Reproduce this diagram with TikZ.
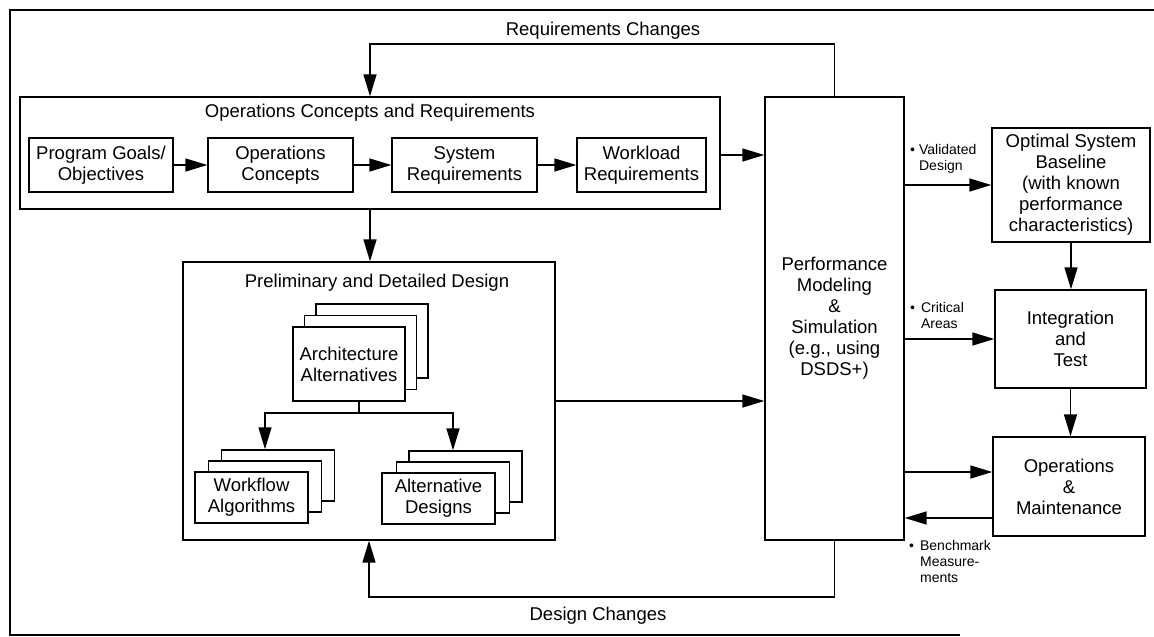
\documentclass[tikz,border=0pt]{standalone}
\usepackage{fontspec}
\setmainfont{Liberation Sans}
\usetikzlibrary{arrows.meta}
\newcommand\bigtxt{\fontsize{18.5}{21}\selectfont}
\newcommand\smalltxt{\fontsize{14}{16}\selectfont}
\begin{document}
\begin{tikzpicture}[x=1pt,y=-1pt,
  box/.style={draw, line width=1.4pt, fill=white, inner sep=0pt, align=center, font=\bigtxt},
  lbl/.style={inner sep=0pt, align=center, font=\bigtxt},
  note/.style={inner sep=0pt, anchor=west, font=\smalltxt},
  arr/.style={line width=1.5pt, -{Triangle[length=22pt,width=13pt]}},
  ln/.style={line width=1.5pt}]
\useasboundingbox (0,0) rectangle (1154,637);
% outer frame
\draw[ln] (1154,10) -- (10,10) -- (10,635) -- (960,635);

% Operations Concepts and Requirements
\node[box, minimum width=700pt, minimum height=112pt] (ocr) at (370,153) {};
\node[lbl] (ocrt) at (370,113) {Operations Concepts and Requirements};
\node[box, minimum width=144pt, minimum height=54pt] (pg) at (101,165) {Program Goals/\\Objectives};
\node[box, minimum width=145pt, minimum height=54pt] (oc) at (280.5,165) {Operations\\Concepts};
\node[box, minimum width=145pt, minimum height=54pt] (sr) at (464.5,165) {System\\Requirements};
\node[box, minimum width=129pt, minimum height=54pt] (wr) at (641.5,165) {Workload\\Requirements};
\draw[arr] (pg) -- (oc);
\draw[arr] (oc) -- (sr);
\draw[arr] (sr) -- (wr);

% Preliminary and Detailed Design
\node[box, minimum width=372pt, minimum height=278pt] (pdd) at (369,401) {};
\node[lbl] (pddt) at (377,283) {Preliminary and Detailed Design};
\node[box, minimum width=112pt, minimum height=74pt] (archB) at (372,341) {};
\node[box, minimum width=112pt, minimum height=74pt] (archM) at (360.5,352.5) {};
\node[box, minimum width=112pt, minimum height=74pt] (archF) at (349,364) {Architecture\\Alternatives};
\node[box, minimum width=113pt, minimum height=51pt] (wfB) at (278,475.5) {};
\node[box, minimum width=113pt, minimum height=51pt] (wfM) at (265,486.5) {};
\node[box, minimum width=113pt, minimum height=51pt] (wfF) at (251.5,497.5) {Workflow\\Algorithms};
\node[box, minimum width=113pt, minimum height=51pt] (altB) at (465.5,476.5) {};
\node[box, minimum width=113pt, minimum height=51pt] (altM) at (453,487.5) {};
\node[box, minimum width=113pt, minimum height=51pt] (altF) at (438.5,498.5) {Alternative\\Designs};
\coordinate (tree) at (359,413);
\draw[ln] (tree |- archF.south) -- (tree);
\draw[arr] (tree) -| (wfM.north |- wfB.north);
\draw[arr] (tree) -| (altM.north |- altB.north);

% Performance modeling
\node[box, minimum width=139pt, minimum height=443pt] (pm) at (834.5,318.5)
  {Performance\\Modeling\\\&\\Simulation\\(e.g., using\\DSDS+)};

% right column
\node[box, minimum width=158pt, minimum height=114pt] (opt) at (1071,185)
  {Optimal System\\Baseline\\(with known\\performance\\characteristics)};
\node[box, minimum width=151pt, minimum height=98pt] (it) at (1070.5,339) {Integration\\and\\Test};
\node[box, minimum width=152pt, minimum height=99pt] (om) at (1069,486.5) {Operations\\\&\\Maintenance};

% connectors
\draw[arr] (ocr.south) -- (ocr.south |- pdd.north);
\draw[arr] ([yshift=-2pt]ocr.east) -- ([yshift=-2pt]ocr.east -| pm.west);
\draw[arr] (pdd.east) -- (pdd.east -| pm.west);
\draw[arr] (opt.west -| pm.east) -- (opt.west);
\draw[arr] (it.west -| pm.east) -- (it.west);
\draw[arr] ([yshift=14.5pt]om.west -| pm.east) -- ([yshift=14.5pt]om.west);
\draw[arr] ([yshift=-31.5pt]om.west) -- ([yshift=-31.5pt]om.west -| pm.east);
\draw[arr] (opt.south) -- (opt.south |- it.north);
\draw[arr] (it.south) -- (it.south |- om.north);

% feedback loops
\coordinate (toploop) at (600,44);
\coordinate (botloop) at (600,597);
\draw[arr] (pm.north) |- (toploop) -| (ocr.north);
\draw[arr] (pm.south) |- (botloop) -| (pdd.south);
\node[lbl] (rc) at (603,31) {Requirements Changes};
\node[lbl] (dc) at (598,616) {Design Changes};

% notes
\node[note] (vd) at (910,159) {\begin{tabular}{@{}l@{\hspace{4pt}}l@{}}\textbullet & Validated\\ & Design\end{tabular}};
\node[note] (ca) at (910,317) {\begin{tabular}{@{}l@{\hspace{6pt}}l@{}}\textbullet & Critical\\ & Areas\end{tabular}};
\node[note] (bm) at (909,563) {\begin{tabular}{@{}l@{\hspace{6pt}}l@{}}\textbullet & Benchmark\\ & Measure-\\ & ments\end{tabular}};
\end{tikzpicture}
\end{document}
